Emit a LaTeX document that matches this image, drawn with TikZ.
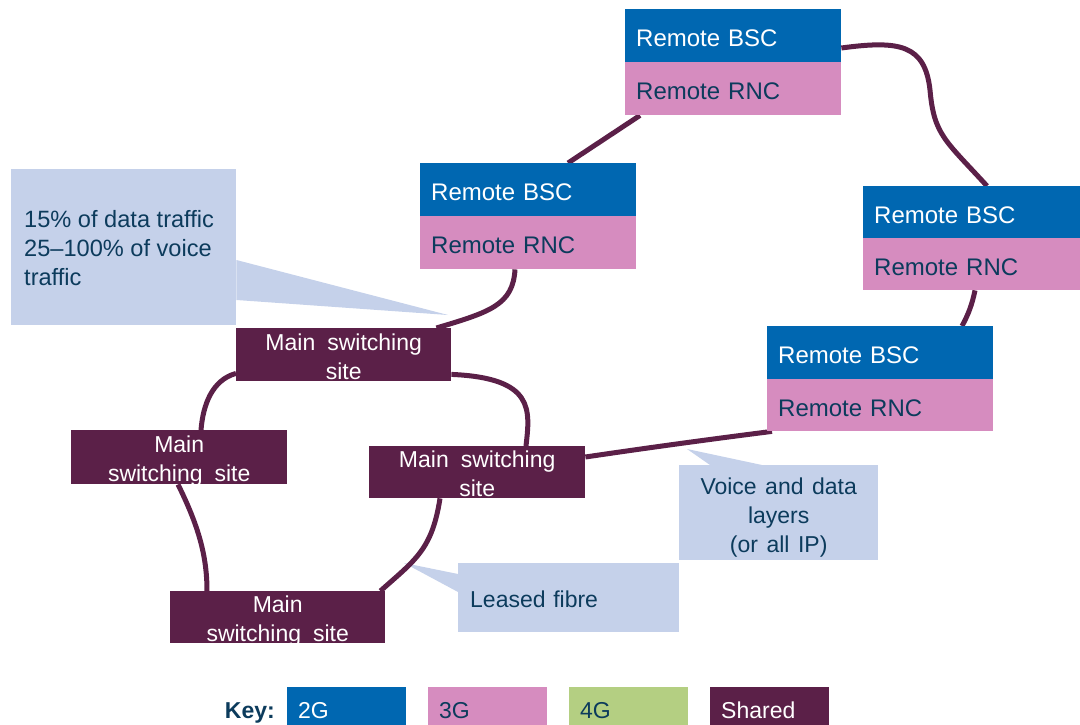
\documentclass[tikz,border=0pt]{standalone}
\usepackage{fontspec}
\setmainfont{Liberation Sans}
\usetikzlibrary{calc}
\definecolor{ctwo}{HTML}{0067B1}
\definecolor{cthree}{HTML}{D68CBF}
\definecolor{cfour}{HTML}{B4CF82}
\definecolor{cshared}{HTML}{5B2048}
\definecolor{ccall}{HTML}{C5D1EA}
\definecolor{ctext}{HTML}{0C3B5C}
\pgfdeclarelayer{background}
\pgfsetlayers{background,main}
\newcommand\bigf{\fontsize{23}{29}\selectfont}
\newcommand\remf{\fontsize{24}{29}\selectfont}
\newcommand\mainf{\fontsize{23}{29}\selectfont\spaceskip=12pt plus 1pt minus 1pt\relax}
\newcommand\voicef{\fontsize{23}{29}\selectfont\spaceskip=8.5pt plus 1pt minus 1pt\relax}
\newcommand\callf{\fontsize{23.6}{29}\selectfont}
\begin{document}
\begin{tikzpicture}[x=1pt,y=-1pt,
  bscbox/.style={fill=ctwo,text=white,anchor=north west,minimum height=53pt,inner xsep=11pt,inner ysep=0pt,text height=22pt,text depth=0pt,align=left,font=\remf},
  rncbox/.style={bscbox,fill=cthree,text=ctext},
  mainbox/.style={fill=cshared,anchor=north west,inner sep=0pt},
  mtext/.style={text=white,align=center,inner sep=0pt,font=\mainf},
  callbox/.style={fill=ccall,anchor=north west,inner sep=0pt},
  calltext/.style={text=ctext,inner sep=0pt},
  keybox/.style={anchor=north west,minimum width=119pt,minimum height=40pt,inner xsep=11pt,inner ysep=0pt,text width=97pt,text height=22.5pt,text depth=0pt,align=left,font=\bigf},
  link/.style={draw=cshared,line width=5pt}]
\useasboundingbox (0,0) rectangle (1080,725);

% remote sites
\node[bscbox,text width=194pt] (r1bsc) at (625,9) {Remote BSC};
\node[rncbox,text width=194pt] (r1rnc) at (625,62) {Remote RNC};
\node[bscbox,text width=194pt] (r2bsc) at (420,163) {Remote BSC};
\node[rncbox,text width=194pt] (r2rnc) at (420,216) {Remote RNC};
\node[bscbox,text width=195pt,minimum height=52pt] (r3bsc) at (863,186) {Remote BSC};
\node[rncbox,text width=195pt,minimum height=52pt] (r3rnc) at (863,238) {Remote RNC};
\node[bscbox,text width=204pt] (r4bsc) at (767,326) {Remote BSC};
\node[rncbox,text width=204pt,minimum height=52pt] (r4rnc) at (767,379) {Remote RNC};

% main switching sites
\node[mainbox,minimum width=215pt,minimum height=53pt] (A) at (236,328) {};
\node[mtext] (Atxt) at ($(A.center)+(0,2)$) {Main switching\\site};
\node[mainbox,minimum width=216pt,minimum height=54pt] (B) at (71,430) {};
\node[mtext] (Btxt) at ($(B.center)+(0,4)$) {Main\\switching site};
\node[mainbox,minimum width=216pt,minimum height=52pt] (C) at (369,446) {};
\node[mtext] (Ctxt) at ($(C.center)+(0,2)$) {Main switching\\site};
\node[mainbox,minimum width=215pt,minimum height=52pt] (D) at (170,591) {};
\node[mtext,anchor=north] (Dtxt) at ($(D.north)+(0,5)$) {Main\\switching site};

% key
\node[font=\bigf\bfseries,text=ctext,anchor=base east,inner sep=0pt] (keylbl) at (275,718) {Key:};
\node[keybox,fill=ctwo,text=white] (k2) at (287,687) {2G};
\node[keybox,fill=cthree,text=ctext] (k3) at (428,687) {3G};
\node[keybox,fill=cfour,text=ctext] (k4) at (569,687) {4G};
\node[keybox,fill=cshared,text=white] (k5) at (710,687) {Shared};

\begin{pgfonlayer}{background}
% callouts
\node[callbox,minimum width=225pt,minimum height=156pt] (call1) at (11,169) {};
\node[calltext,anchor=west,align=left,font=\callf] (call1txt) at ($(call1.west)+(13,1)$) {15\% of data traffic\\25–100\% of voice\\traffic};
\coordinate (tip1) at (448,315);
\fill[ccall] ($(call1.north east)+(0,91)$) -- (tip1) -- ($(call1.north east)+(0,131)$) -- cycle;

\node[callbox,minimum width=199pt,minimum height=95pt] (call2) at (679,465) {};
\node[calltext,align=center,font=\voicef] (call2txt) at ($(call2.center)+(0,5)$) {Voice and data\\layers\\(or all IP)};
\coordinate (tip2) at (687,449);
\fill[ccall] ($(call2.north west)+(31,0)$) -- (tip2) -- ($(call2.north west)+(83,0)$) -- cycle;

\node[callbox,minimum width=221pt,minimum height=69pt,inner xsep=12pt,text width=197pt,text height=20pt,text depth=0pt,align=left,text=ctext,font=\bigf] (call3) at (458,563) {Leased fibre};
\coordinate (tip3) at (404,563);
\fill[ccall] ($(call3.north west)+(0,11)$) -- (tip3) -- ($(call3.north west)+(0,29)$) -- cycle;

% connectors
\draw[link] ($(r1rnc.south west)+(15,0)$) -- ($(r2bsc.north west)+(148,0)$);
\draw[link] ($(r1bsc.north east)+(0,39)$) .. controls (900,40) and (925,45) .. (930,90)
  .. controls (934,135) and (945,140) .. ($(r3bsc.north west)+(124,0)$);
\draw[link] ($(r3rnc.south west)+(112,0)$) .. controls (972,305) and (968,315) .. ($(r4bsc.north west)+(195,0)$);
\draw[link] ($(C.north east)+(0,11)$) .. controls (660,446) and (720,438) .. ($(r4rnc.south west)+(5,0)$);
\draw[link] ($(r2rnc.south west)+(95,0)$) .. controls (513,305) and (490,312) .. ($(A.north east)+(-15,0)$);
\draw[link] ($(A.south east)+(0,-7)$) .. controls (535,378) and (530,410) .. ($(C.north west)+(157,0)$);
\draw[link] ($(A.south west)+(0,-8)$) .. controls (212,380) and (203,405) .. ($(B.north west)+(130,0)$);
\draw[link] ($(B.south west)+(107,0)$) .. controls (198,525) and (207,555) .. ($(D.north west)+(37,0)$);
\draw[link] ($(C.south west)+(71,0)$) .. controls (432,550) and (415,560) .. ($(D.north east)+(-5,0)$);
\end{pgfonlayer}
\end{tikzpicture}
\end{document}
